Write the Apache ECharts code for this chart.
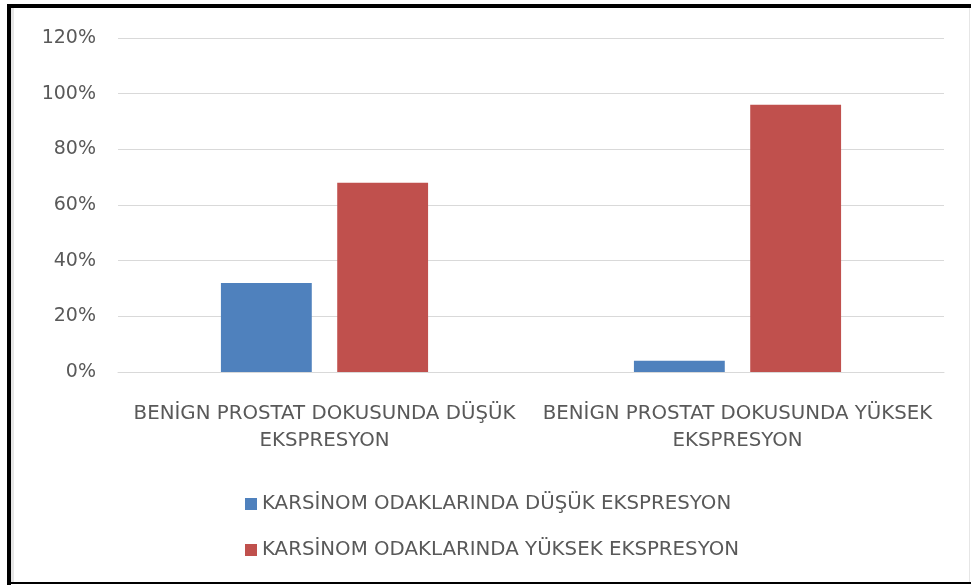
<!DOCTYPE html>
<html>
<head>
<meta charset="utf-8">
<script src="https://cdn.jsdelivr.net/npm/echarts@6/dist/echarts.min.js"></script>
<style>
  html, body { margin: 0; padding: 0; background: #fff; }
  #chart { width: 971px; height: 585px; }
</style>
</head>
<body>
<div id="chart"></div>
<script>
  var categories = [
    'BENİGN PROSTAT DOKUSUNDA DÜŞÜK\nEKSPRESYON',
    'BENİGN PROSTAT DOKUSUNDA YÜKSEK\nEKSPRESYON'
  ];
  var seriesNames = [
    'KARSİNOM ODAKLARINDA DÜŞÜK EKSPRESYON',
    'KARSİNOM ODAKLARINDA YÜKSEK EKSPRESYON'
  ];
  var lowValues = [32, 4];
  var highValues = [68, 96];

  var font = '"DejaVu Sans", sans-serif';
  var textColor = '#595959';

  var chart = echarts.init(document.getElementById('chart'));
  chart.setOption({
    animation: false,
    textStyle: { fontFamily: font },
    grid: { left: 118, right: 27, top: 38, bottom: 213, containLabel: false },
    legend: {
      orient: 'vertical',
      left: 245,
      top: 494,
      padding: 0,
      itemGap: 26,
      itemWidth: 12,
      itemHeight: 12,
      icon: 'rect',
      textStyle: { fontSize: 19.8, color: textColor, fontFamily: font },
      data: seriesNames
    },
    xAxis: {
      type: 'category',
      data: categories,
      axisLine: { show: true, lineStyle: { color: '#d9d9d9', width: 1 } },
      axisTick: { show: false },
      axisLabel: {
        fontSize: 19.8,
        color: textColor,
        lineHeight: 27,
        margin: 28,
        interval: 0
      }
    },
    yAxis: {
      type: 'value',
      min: 0,
      max: 120,
      interval: 20,
      axisLine: { show: false },
      axisTick: { show: false },
      splitLine: { lineStyle: { color: '#d9d9d9', width: 1 } },
      axisLabel: {
        fontSize: 19,
        color: textColor,
        margin: 22,
        formatter: '{value}%'
      }
    },
    series: [
      {
        name: seriesNames[0],
        type: 'bar',
        data: lowValues,
        barWidth: '22%',
        barGap: '28%',
        itemStyle: { color: '#4f81bd' }
      },
      {
        name: seriesNames[1],
        type: 'bar',
        data: highValues,
        barWidth: '22%',
        itemStyle: { color: '#c0504d' }
      }
    ],
    graphic: [
      { type: 'rect', shape: { x: 7, y: 4, width: 964, height: 4 }, style: { fill: '#000' } },
      { type: 'rect', shape: { x: 7, y: 4, width: 4, height: 581 }, style: { fill: '#000' } },
      { type: 'rect', shape: { x: 11, y: 8, width: 3, height: 575 }, style: { fill: '#e6e6e6' } },
      { type: 'rect', shape: { x: 7, y: 582, width: 964, height: 2 }, style: { fill: '#000' } },
      { type: 'rect', shape: { x: 969, y: 8, width: 1, height: 574 }, style: { fill: '#e6e6e6' } }
    ]
  });
</script>
</body>
</html>
